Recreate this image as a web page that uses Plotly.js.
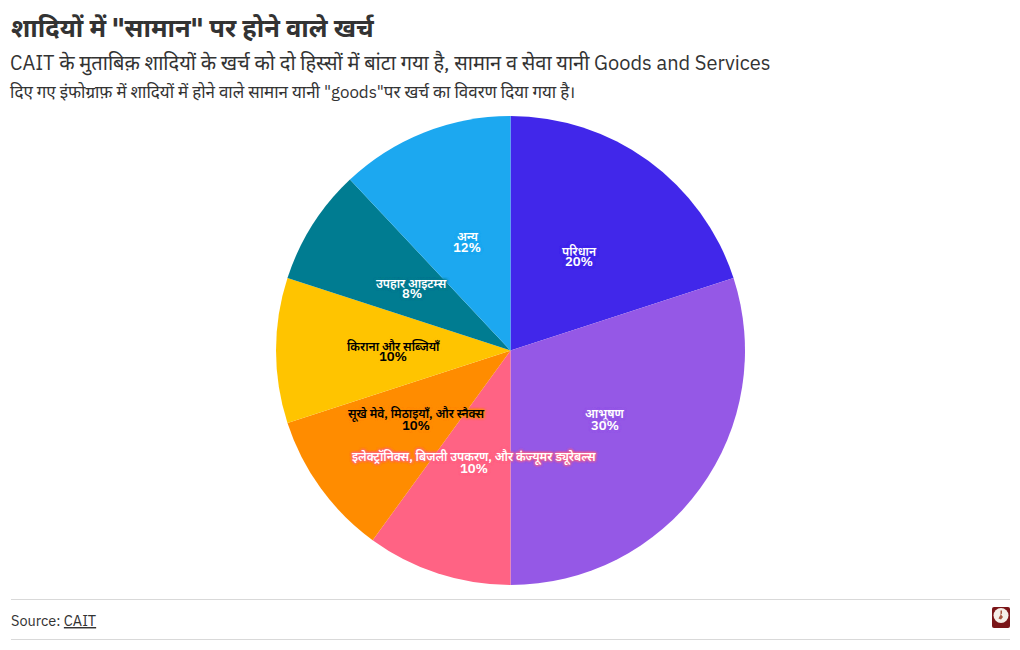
<!DOCTYPE html>
<html>
<head>
<meta charset="utf-8">
<script src="https://cdn.plot.ly/plotly-3.0.1.min.js"></script>
<style>
  html, body { margin: 0; padding: 0; background: #fff; }
</style>
</head>
<body>
<div id="myPlot" style="width:1020px;height:650px;"></div>
<script>
const categories = ["परिधान", "आभूषण", "इलेक्ट्रॉनिक्स, बिजली उपकरण, और कंज्यूमर ड्यूरेबल्स", "सूखे मेवे, मिठाइयाँ, और स्नैक्स", "किराना और सब्जियाँ", "उपहार आइटम्स", "अन्य"];
const shares = [20, 30, 10, 10, 10, 8, 12];
const sliceColors = ["#4127EA", "#9558E6", "#FF6384", "#FF8C00", "#FFC400", "#007C91", "#1CA8F0"];
const labelColors = ["#ffffff", "#ffffff", "#ffffff", "#000000", "#000000", "#ffffff", "#ffffff"];

const titleText = 'शादियों में "सामान" पर होने वाले खर्च';
const subtitleText = "CAIT के मुताबिक़ शादियों के खर्च को दो हिस्सों में बांटा गया है, सामान व सेवा यानी Goods and Services";
const noteText = 'दिए गए इंफोग्राफ़ में शादियों में होने वाले सामान यानी "goods"पर खर्च का विवरण दिया गया है।';
const sourceText = "Source: <u>CAIT</u>";

const fontFamily = '"IBM Plex Sans", "Noto Sans", "Open Sans", sans-serif';

// page size and pie box in px
const W = 1020, H = 650;
const mT = 116, mB = 65, mL = 1, mR = 0;
const plotW = W - mL - mR, plotH = H - mT - mB;
const toX = (px) => (px - mL) / plotW;
const toY = (px) => (H - mB - px) / plotH;

const data = [
  {
    type: "pie",
    labels: categories,
    values: shares,
    sort: false,
    direction: "clockwise",
    rotation: 0,
    textinfo: "none",
    hoverinfo: "label+percent",
    marker: { colors: sliceColors, line: { width: 0 } },
  },
];

function textNote(text, font, px, py, xanchor) {
  return { text: text, font: font, showarrow: false, xref: "paper", yref: "paper", xanchor: xanchor || "left", yanchor: "middle", x: toX(px), y: toY(py) };
}

// slice labels sit at half the radius, with tight line spacing the pie text can't do
const total = shares.reduce((a, b) => a + b, 0);
const cx = mL + plotW / 2, cy = mT + plotH / 2, r = plotH / 2;
const sliceNotes = [];
let running = 0;
shares.forEach(function (v, i) {
  const ang = ((running + v / 2) / total) * 2 * Math.PI;
  running += v;
  const px = cx + (r / 2) * Math.sin(ang);
  const py = cy - (r / 2) * Math.cos(ang);
  const c = sliceColors[i];
  const halo = "0 0 3px " + c + ", 0 0 3px " + c + ", 0 0 3px " + c + ", 0 0 3px " + c;
  const nameFont = { size: 12, weight: 600, color: labelColors[i], shadow: halo };
  const pctFont = { size: 13, weight: 600, color: labelColors[i], shadow: halo };
  sliceNotes.push(textNote(categories[i], nameFont, px, py - 4.5, "center"));
  sliceNotes.push(textNote(Math.round((v / total) * 100) + "%", pctFont, px, py + 6, "center"));
});

const logoSvg =
  '<svg xmlns="http://www.w3.org/2000/svg" width="18" height="21" viewBox="0 0 18 21">' +
  '<rect x="0" y="0" width="18" height="21" rx="2" fill="#7a1518"/>' +
  '<circle cx="9" cy="8.5" r="7.5" fill="#f5efe8"/>' +
  '<path d="M8.5 3.5h1.5v3l-1 1 2 2.5-2 2.5-2.5-1 1-2 1-1.5z" fill="#a8563f"/>' +
  '</svg>';

const layout = {
  width: W,
  height: H,
  margin: { l: mL, r: mR, t: mT, b: mB, pad: 0 },
  paper_bgcolor: "#ffffff",
  font: { family: fontFamily, color: "#333333" },
  showlegend: false,
  annotations: [
    textNote(titleText, { size: 25.5, color: "#333333", weight: 700 }, 9, 28),
    textNote(subtitleText, { size: 20, color: "#333333" }, 8, 63),
    textNote(noteText, { size: 16.95, color: "#333333" }, 8, 92),
    textNote(sourceText, { size: 14.5, color: "#333333" }, 9, 620),
  ].concat(sliceNotes),
  shapes: [
    { type: "line", xref: "paper", yref: "paper", x0: toX(11), x1: toX(1010), y0: toY(599.5), y1: toY(599.5), line: { color: "#d9d9d9", width: 1 } },
    { type: "line", xref: "paper", yref: "paper", x0: toX(11), x1: toX(1010), y0: toY(639.5), y1: toY(639.5), line: { color: "#d9d9d9", width: 1 } },
  ],
  images: [
    {
      source: "data:image/svg+xml;utf8," + encodeURIComponent(logoSvg),
      xref: "paper",
      yref: "paper",
      x: toX(992),
      y: toY(607),
      sizex: 18 / plotW,
      sizey: 21 / plotH,
      xanchor: "left",
      yanchor: "top",
    },
  ],
};

Plotly.newPlot("myPlot", data, layout, { displayModeBar: false });
</script>
</body>
</html>
